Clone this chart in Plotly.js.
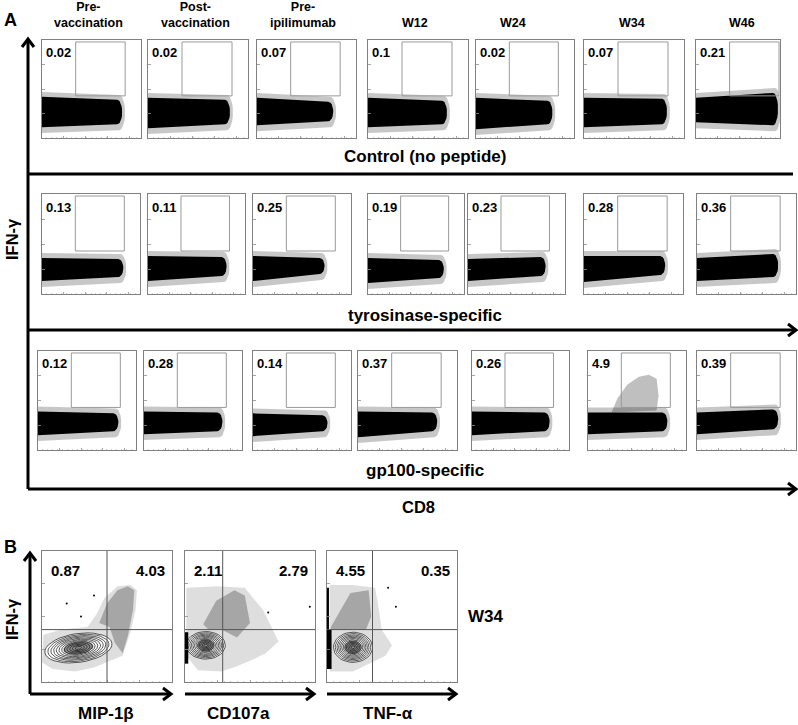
<!DOCTYPE html>
<html><head><meta charset="utf-8">
<script src="https://cdn.plot.ly/plotly-3.0.1.min.js"></script>
<style>html,body{margin:0;padding:0;background:#fff}#chart{width:798px;height:725px}</style>
</head><body><div id="chart"></div>
<script>
// ================= DATA =================
const timepoints = ["Pre-<br>vaccination","Post-<br>vaccination","Pre-<br>ipilimumab","W12","W24","W34","W46"];
const conditions = ["Control (no peptide)","tyrosinase-specific","gp100-specific"];
const pctControl    = [0.02,0.02,0.07,0.1,0.02,0.07,0.21];
const pctTyrosinase = [0.13,0.11,0.25,0.19,0.23,0.28,0.36];
const pctGp100      = [0.12,0.28,0.14,0.37,0.26,4.9,0.39];

// IFN-γ+ gate (CD8 / IFN-γ, % of axis)
const gateCD8 = [34,84];
const gateIFN = [43,98];

// dense CD8+ event cloud envelope per panel (% of axis)
const ctrlEnd  = [81,82,77,79,78,83,83];
const ctrlTopL = [42,41,41,41,41,41,41];
const ctrlTopR = [39,39,37,38,38,40,46];
const ctrlBotL = [11,10,13,11,9,11,16];
const ctrlBotR = [14,14,17,14,14,14,13];

const tyrEnd  = [83,81,73,79,80,82,82];
const tyrTopL = [36,38,38,36,35,38,36];
const tyrTopR = [35,37,36,34,37,38,40];
const tyrBotL = [13,13,13,11,13,12,13];
const tyrBotR = [17,18,20,16,18,19,17];

const gpEnd  = [82,80,76,80,80,81,82];
const gpTopL = [39,39,37,39,39,38,38];
const gpTopR = [37,38,35,38,38,38,41];
const gpBotL = [15,16,14,13,15,16,16];
const gpBotR = [19,19,19,19,19,19,21];

// responding IFN-γ+ events, gp100 W34
const w34CloudX = [24,30,40,52,62,70,72,70];
const w34CloudY = [38,52,66,74,76,72,55,40];

// Panel B (W34, gp100-specific CD8+)
const bMarkers   = ["MIP-1β","CD107a","TNF-α"];
const bIfnOnly   = [0.87,2.11,4.55];
const bDoublePos = [4.03,2.79,0.35];
const bQuadX = [50,29,35];
const bQuadY = [40,40,40];
const bContourCx = [28,16,20];
const bContourCy = [26,28,26.5];
const bContourRx = [26,15,15];
const bContourRy = [11,10.5,11.5];
const bContourTilt = [8,0,0];
const bCloudX = [[0,1,15,35,42,48,58,68,73,72,68,62,52,40,25,8],
                 [1,25,46,60,72,62,54,40,28,10,1],
                 [2,20,37,40,42,50,45,35,20,2]];
const bCloudY = [[15,36,40,42,52,64,73,74,70,55,38,20,16,11,8,10],
                 [72,73,72,55,31,22,18,12,8,9,20],
                 [74,74,72,55,40,28,20,15,8,8]];
const bDenseX = [[44,50,58,66,71,70,66,62,56,52],
                 [14,24,38,46,50,40,28,18],
                 [3,18,32,34,30,3]];
const bDenseY = [[45,60,70,73,70,55,35,22,30,42],
                 [44,62,70,66,45,34,40,40],
                 [42,68,70,50,40,40]];
const bPileX = [[],[0,2.5,2.5,0],[0,3.5,3.5,1.5,1.5,0]];
const bPileY = [[],[14,14,38,38],[10,10,40,40,72,72]];
const bOutX = [[19,40,30],[96,64],[47,53]];
const bOutY = [[60,66,50],[57.5,53],[72,57.5]];

// ================= LAYOUT GEOMETRY (pixels) =================
const W = 798, H = 725;
const px = x => x / W, py = y => 1 - y / H;
const rowTop = [40,194,351], rowBottom = [138,294,450];
const colLeft  = [[42,148,257,368,476,584,696],[42,148,253,368,468,584,697],[38,144,253,358,472,588,697]];
const colRight = [[141,248,356,468,574,684,780],[140,245,351,464,565,683,796],[136,242,351,457,569,686,796]];
const headerX = [88,195,303,415,513,632,742];
const rowLabelY = [157,315,470];
const bLeft = [42,185,327], bRight = [172,315,457], bTop = 551, bBottom = 682;
const bLabelX = [106,238,388];

const FONT = "Liberation Sans, Arial, Helvetica, sans-serif";
const traces = [], shapes = [], annotations = [];
const layout = {width:W, height:H, margin:{l:0,r:0,t:0,b:0}, paper_bgcolor:'#fff', plot_bgcolor:'rgba(0,0,0,0)',
  showlegend:false, font:{family:FONT, color:'#000'}};

const axisBase = {showgrid:false, zeroline:false, showline:true, mirror:true, linecolor:'#808080', linewidth:1,
  ticks:'inside', ticklen:2.5, tickcolor:'#909090', tickwidth:0.8, showticklabels:false, fixedrange:true};

function axId(k){ return k === 0 ? '' : String(k+1); }

function blobPoly(E, tL, tR, bL, bR, r){
  const xs = [0, 0, E - r], ys = [bL, tL, tR];
  const cy = (tR + bR) / 2, ry = (tR - bR) / 2;
  for (let a = 90; a >= -90; a -= 15){
    const t = a * Math.PI / 180;
    xs.push(E - r + r * Math.cos(t)); ys.push(cy + ry * Math.sin(t));
  }
  xs.push(0); ys.push(bL);
  return {x: xs, y: ys.map(v => Math.max(0.5, v))};
}
function polyTrace(xa, ya, x, y, color){
  return {type:'scatter', mode:'lines', x:x, y:y, xaxis:xa, yaxis:ya, fill:'toself', fillcolor:color,
    line:{width:0, color:'rgba(0,0,0,0)'}, hoverinfo:'skip'};
}
function closed(a){ return a.concat([a[0]]); }

const pctRows = [pctControl, pctTyrosinase, pctGp100];
const env = [
  [ctrlEnd, ctrlTopL, ctrlTopR, ctrlBotL, ctrlBotR],
  [tyrEnd, tyrTopL, tyrTopR, tyrBotL, tyrBotR],
  [gpEnd, gpTopL, gpTopR, gpBotL, gpBotR]];
const minorX = {ticks:'inside', ticklen:1.5, tickcolor:'#b0b0b0', tickwidth:0.6, dtick:5};

let k = 0;
for (let r = 0; r < 3; r++){
  for (let c = 0; c < 7; c++, k++){
    const id = axId(k), xa = 'x' + id, ya = 'y' + id;
    layout['xaxis' + id] = Object.assign({}, axisBase, {domain:[px(colLeft[r][c]), px(colRight[r][c])],
      range:[0, (r === 0 && c === 6) ? 85 : 100], anchor: ya, tickvals:[0,22,44,66,88], minor:minorX});
    layout['yaxis' + id] = Object.assign({}, axisBase, {domain:[py(rowBottom[r]), py(rowTop[r])],
      range:[0,100], anchor: xa, tickvals:[0,25,50,75]});
    const [E, tL, tR, bL, bR] = env[r].map(a => a[c]);
    const halo = blobPoly(E + 3, tL + 5, tR + 5, bL - 6, bR - 6, 6);
    traces.push(polyTrace(xa, ya, halo.x, halo.y, 'rgba(0,0,0,0.22)'));
    const core = blobPoly(E, tL, tR, bL, bR, 5);
    traces.push(polyTrace(xa, ya, core.x, core.y, '#000'));
    if (r === 2 && c === 5){
      traces.push(polyTrace(xa, ya, closed(w34CloudX), closed(w34CloudY), 'rgba(0,0,0,0.25)'));
    }
    shapes.push({type:'rect', xref:xa, yref:ya, x0:gateCD8[0], x1:gateCD8[1], y0:gateIFN[0], y1:gateIFN[1],
      line:{color:'#9a9a9a', width:1}});
    annotations.push({xref:xa, yref:ya, x:2, y:87, xanchor:'left', yanchor:'middle', showarrow:false,
      text:'<b>' + pctRows[r][c] + '</b>', font:{size:13, family:FONT}});
  }
}

// Panel B
const levels = [0.1,0.18,0.26,0.34,0.42,0.5,0.58,0.66,0.74,0.82,0.91,1.0];
for (let b = 0; b < 3; b++, k++){
  const id = axId(k), xa = 'x' + id, ya = 'y' + id;
  layout['xaxis' + id] = Object.assign({}, axisBase, {domain:[px(bLeft[b]), px(bRight[b])], range:[0,100], anchor:ya,
    tickvals:[0,25,50,75], minor:minorX});
  layout['yaxis' + id] = Object.assign({}, axisBase, {domain:[py(bBottom), py(bTop)], range:[0,100], anchor:xa,
    tickvals:[0,25,50,75]});
  traces.push(polyTrace(xa, ya, closed(bCloudX[b]), closed(bCloudY[b]), 'rgba(0,0,0,0.13)'));
  traces.push(polyTrace(xa, ya, closed(bDenseX[b]), closed(bDenseY[b]), 'rgba(0,0,0,0.25)'));
  const th = bContourTilt[b] * Math.PI / 180;
  const ell = s => {
    const ex = [], ey = [];
    for (let a = 0; a <= 360; a += 10){
      const t = a * Math.PI / 180;
      const u = bContourRx[b] * s * Math.cos(t), v = bContourRy[b] * s * Math.sin(t);
      ex.push(bContourCx[b] + u * Math.cos(th) - v * Math.sin(th));
      ey.push(bContourCy[b] + u * Math.sin(th) + v * Math.cos(th));
    }
    return [ex, ey];
  };
  let [ox, oy] = ell(1.0);
  traces.push(polyTrace(xa, ya, ox, oy, '#fff'));
  [ox, oy] = ell(0.45);
  traces.push(polyTrace(xa, ya, ox, oy, 'rgba(0,0,0,0.45)'));
  const cx = [], cy = [];
  levels.forEach(s => { const [ex, ey] = ell(s); cx.push(...ex, null); cy.push(...ey, null); });
  traces.push({type:'scatter', mode:'lines', x:cx, y:cy, xaxis:xa, yaxis:ya, line:{color:'#111', width:0.7},
    hoverinfo:'skip', connectgaps:false});
  if (bPileX[b].length){
    traces.push(polyTrace(xa, ya, closed(bPileX[b]), closed(bPileY[b]), '#000'));
  }
  traces.push({type:'scatter', mode:'markers', x:bOutX[b], y:bOutY[b], xaxis:xa, yaxis:ya,
    marker:{size:2, color:'#000'}, hoverinfo:'skip'});
  shapes.push({type:'line', xref:xa, yref:ya, x0:bQuadX[b], x1:bQuadX[b], y0:0, y1:100, line:{color:'#555', width:1}});
  shapes.push({type:'line', xref:xa, yref:ya, x0:0, x1:100, y0:bQuadY[b], y1:bQuadY[b], line:{color:'#555', width:1}});
  annotations.push({xref:xa, yref:ya, x:5, y:85, xanchor:'left', yanchor:'middle', showarrow:false,
    text:'<b>' + bIfnOnly[b] + '</b>', font:{size:15, family:FONT}});
  annotations.push({xref:xa, yref:ya, x:96, y:85, xanchor:'right', yanchor:'middle', showarrow:false,
    text:'<b>' + bDoublePos[b] + '</b>', font:{size:15, family:FONT}});
  annotations.push({xref:'paper', yref:'paper', x:px(bLabelX[b]), y:py(713), xanchor:'center', yanchor:'middle',
    showarrow:false, text:'<b>' + bMarkers[b] + '</b>', font:{size:17, family:FONT}});
}

// Frame lines and arrows (paper coordinates)
const LW = 3;
function hline(y, x0, x1){ shapes.push({type:'line', xref:'paper', yref:'paper', x0:px(x0), x1:px(x1), y0:py(y), y1:py(y), line:{color:'#000', width:LW}}); }
function vline(x, y0, y1){ shapes.push({type:'line', xref:'paper', yref:'paper', x0:px(x), x1:px(x), y0:py(y0), y1:py(y1), line:{color:'#000', width:LW}}); }
function chevron(pts){
  const d = 'M' + pts.map(p => px(p[0]) + ',' + py(p[1])).join(' L');
  shapes.push({type:'path', xref:'paper', yref:'paper', path:d, line:{color:'#000', width:LW}});
}
vline(28, 489, 40); chevron([[22,47],[28,39],[34,47]]);
hline(174, 28, 793);
hline(330, 28, 796); chevron([[788,324],[796,330],[788,336]]);
hline(489, 28, 796); chevron([[788,483],[796,489],[788,495]]);
vline(30, 694, 554); chevron([[24,561],[30,553],[36,561]]);
hline(694, 30, 171); chevron([[163,688],[171,694],[163,700]]);
hline(694, 185, 314); chevron([[306,688],[314,694],[306,700]]);
hline(694, 327, 456); chevron([[448,688],[456,694],[448,700]]);

function txt(t, x, y, size, extra){
  annotations.push(Object.assign({xref:'paper', yref:'paper', x:px(x), y:py(y), xanchor:'center', yanchor:'middle',
    showarrow:false, text:'<b>' + t + '</b>', font:{size:size, family:FONT}}, extra || {}));
}
timepoints.forEach((t, i) => txt(t, headerX[i], t.indexOf('<br>') >= 0 ? 15 : 23, 12.5));
conditions.forEach((t, i) => txt(t, 425, rowLabelY[i], 17));
txt('A', 10, 20, 18);
txt('B', 10, 547, 18);
txt('CD8', 418, 507, 16.5);
txt('IFN-γ', 12, 239, 16.5, {textangle:-90});
txt('IFN-γ', 12, 619, 16.5, {textangle:-90});
txt('W34', 486, 616, 17);

layout.shapes = shapes;
layout.annotations = annotations;
Plotly.newPlot('chart', traces, layout, {displayModeBar:false, staticPlot:true});
</script></body></html>
